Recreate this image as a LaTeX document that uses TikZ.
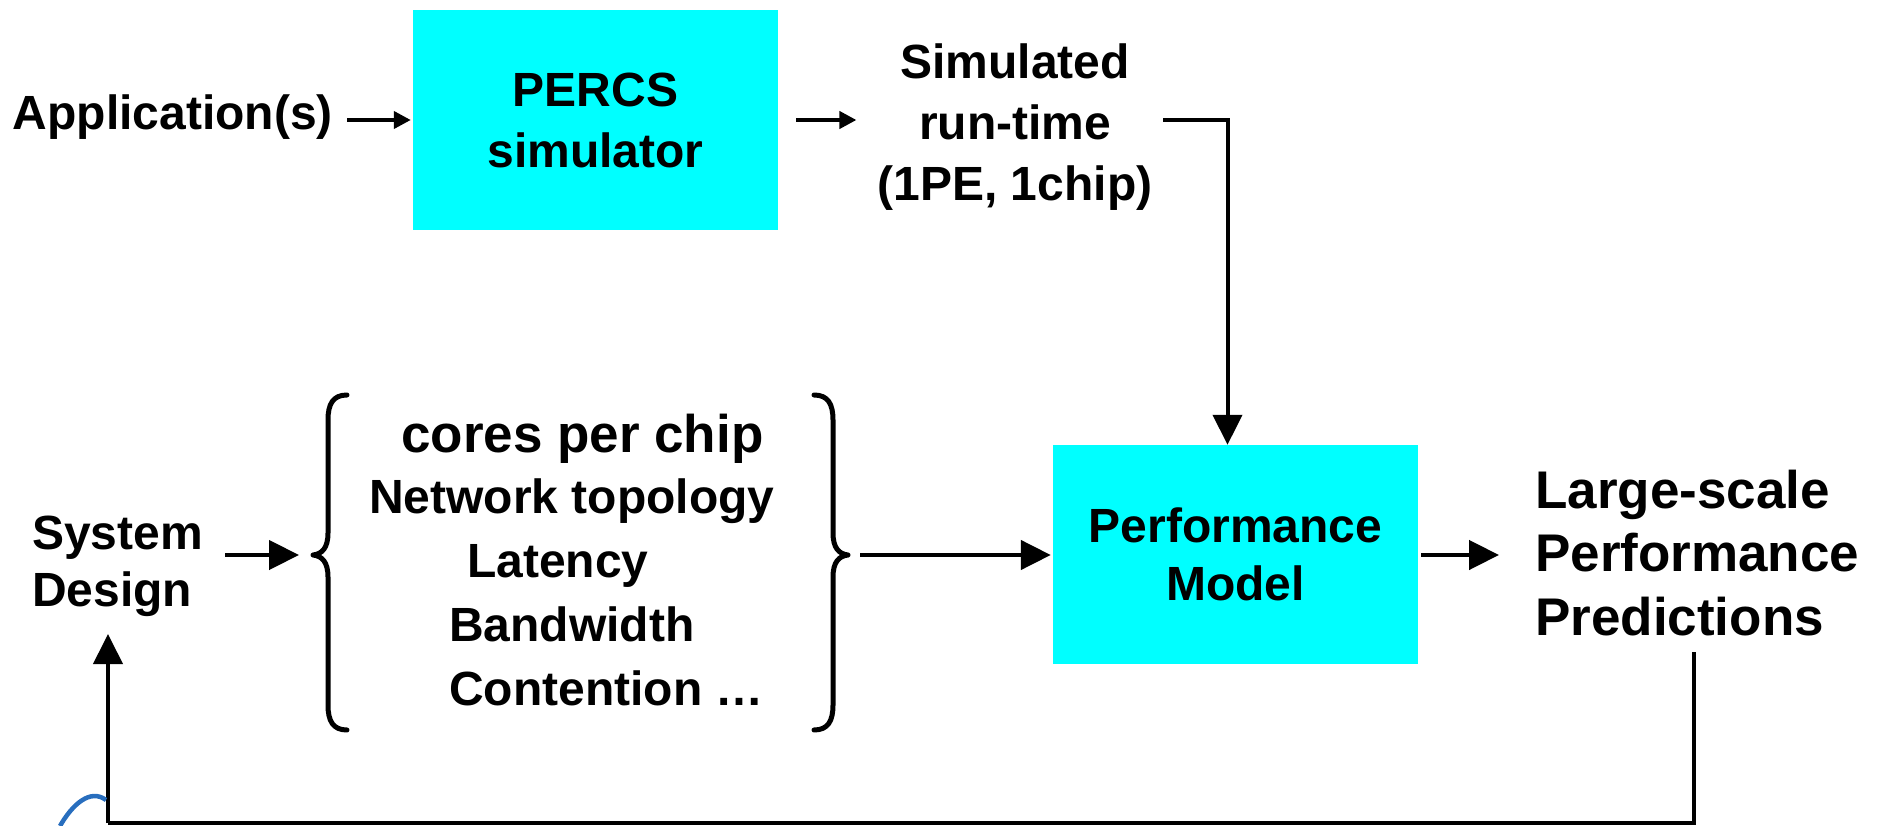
\documentclass[tikz,border=0pt]{standalone}
\usepackage{fontspec}
\setmainfont{Liberation Sans}
\usetikzlibrary{arrows.meta}
\definecolor{aqua}{RGB}{0,255,255}
\definecolor{logoblue}{RGB}{40,110,190}
\begin{document}
\begin{tikzpicture}[x=1pt,y=-1pt,
  txt/.style={font=\fontsize{48}{61}\selectfont\bfseries, inner sep=0pt},
  cbox/.style={txt, fill=aqua, draw=none, align=center, minimum width=365pt, minimum height=220pt},
  sarrow/.style={line width=4pt, -{Triangle[length=17pt,width=17pt]}},
  barrow/.style={line width=4.5pt, -{Triangle[length=30pt,width=29pt]}},
  plainline/.style={line width=4.5pt},
  bracestyle/.style={line width=5pt, line cap=round, line join=round}]
\useasboundingbox (0,0) rectangle (1877,826);

% boxes
\node[cbox] (percs) at (595.5,120) {PERCS\\simulator};
\node[cbox, minimum height=219pt] (pm) at (1235.5,554.5) {Performance\\[-3pt]Model};

% texts
\node[txt, anchor=east] (app) at (333,117) {Application(s)};
\node[txt, align=center] (sim) at (1015,127) {Simulated\\run-time\\(1PE, 1chip)};
\node[txt, align=left, anchor=west] (sys) at (32,566) {System\\[-4pt]Design};
\node[txt, align=left, anchor=west, font=\fontsize{53}{63.5}\selectfont\bfseries] (lsp) at (1535,553) {Large-scale\\Performance\\Predictions};

% list
\node[txt, anchor=base west, font=\fontsize{53}{60}\selectfont\bfseries] (l1) at (401,452) {cores per chip};
\node[txt, anchor=base west] (l2) at (369,513) {Network topology};
\node[txt, anchor=base west] (l3) at (467,577) {Latency};
\node[txt, anchor=base west] (l4) at (449,641) {Bandwidth};
\node[txt, anchor=base west] (l5) at (449,705) {Contention …};

% braces
\coordinate (lbrace) at (313,555);
\coordinate (rbrace) at (848,555);
\draw[bracestyle] (347,395) .. controls (333,395) and (328,404) .. (328,420) -- (328,533)
  .. controls (328,548) and (322,554) .. (lbrace) .. controls (322,556) and (328,562) .. (328,577)
  -- (328,705) .. controls (328,721) and (333,730) .. (347,730);
\draw[bracestyle] (814,395) .. controls (828,395) and (833,404) .. (833,420) -- (833,533)
  .. controls (833,548) and (839,554) .. (rbrace) .. controls (839,556) and (833,562) .. (833,577)
  -- (833,705) .. controls (833,721) and (828,730) .. (814,730);

% connectors
\draw[sarrow, shorten <=14pt, shorten >=2pt] (app.east |- percs.west) -- (percs.west);
\draw[sarrow, shorten <=18pt, shorten >=21pt] (percs.east) -- (percs.east -| sim.west);
\coordinate (simout) at (1163,120);
\draw[barrow, line width=4pt] (simout) -| ([xshift=-8pt]pm.north);
\draw[barrow, shorten <=22pt, shorten >=14pt] (sys.east |- lbrace) -- (lbrace);
\draw[barrow, shorten <=12pt, shorten >=2pt] (rbrace) -- (rbrace -| pm.west);
\draw[barrow, shorten <=3pt, shorten >=36pt] (pm.east |- rbrace) -- (pm.east |- rbrace -| lsp.west);
\coordinate (fb1) at (1694,652);
\coordinate (fb2) at (108,823);
\draw[plainline, line width=4pt] (fb1) |- (fb2);
\draw[barrow, line width=4pt] (fb2) -- (fb2 |- 0,634);

% logo remnant
\draw[line width=4.5pt, logoblue] (60,826) .. controls (72,805) and (90,788) .. (106,800);
\end{tikzpicture}
\end{document}
